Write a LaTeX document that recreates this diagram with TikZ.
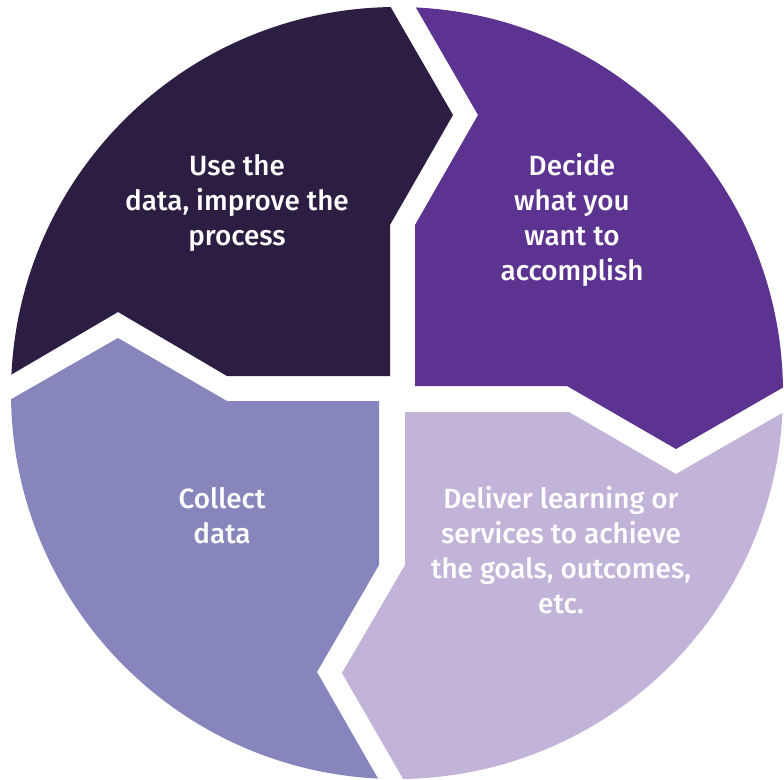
\documentclass[tikz,border=0pt]{standalone}
\usepackage{fontspec}
\setmainfont{Fira Sans}[UprightFont=* Medium]
\usepackage{xcolor}
\definecolor{cycdark}{RGB}{44,30,66}
\definecolor{cycpurple}{RGB}{93,51,145}
\definecolor{cycblue}{RGB}{134,134,189}
\definecolor{cyclilac}{RGB}{194,180,216}

\begin{document}
\begin{tikzpicture}[x=0.3mm,y=-0.3mm,lbl/.style={text=white,align=center,inner sep=0pt,font=\fontsize{23.8}{29.8}\selectfont}]
		\useasboundingbox (0,0) rectangle (784,779);
		\begin{scope}
			\clip (397,393) circle (115.8mm);
			\fill[cycdark] (375,-20) -- (453,115) -- (390,225) -- (390,376) -- (227,376) -- (118,312) -- (-20,393) -- (-20,-20) -- cycle;
			\fill[cycpurple] (400,-20) -- (478,115) -- (415,225) -- (415,386) -- (567,386) -- (676,449) -- (810,372) -- (810,-20) -- cycle;
			\fill[cyclilac] (405,412) -- (569,412) -- (676,474) -- (810,397) -- (810,810) -- (421,810) -- (342,673) -- (405,565) -- cycle;
			\fill[cycblue] (-20,417) -- (118,338) -- (227,401) -- (379,401) -- (379,565) -- (317,672) -- (396,810) -- (-20,810) -- cycle;
		\end{scope}
		\node[lbl] (use) at (237,203) {Use the\\data, improve the\\process};
		\node[lbl] (decide) at (572,220) {Decide\\what you\\want to\\accomplish};
		\node[lbl] (collect) at (222,516) {Collect\\data};
		\node[lbl] (deliver) at (561,550) {Deliver learning or\\services to achieve\\the goals, outcomes,\\etc.};
	\end{tikzpicture}
\end{document}
